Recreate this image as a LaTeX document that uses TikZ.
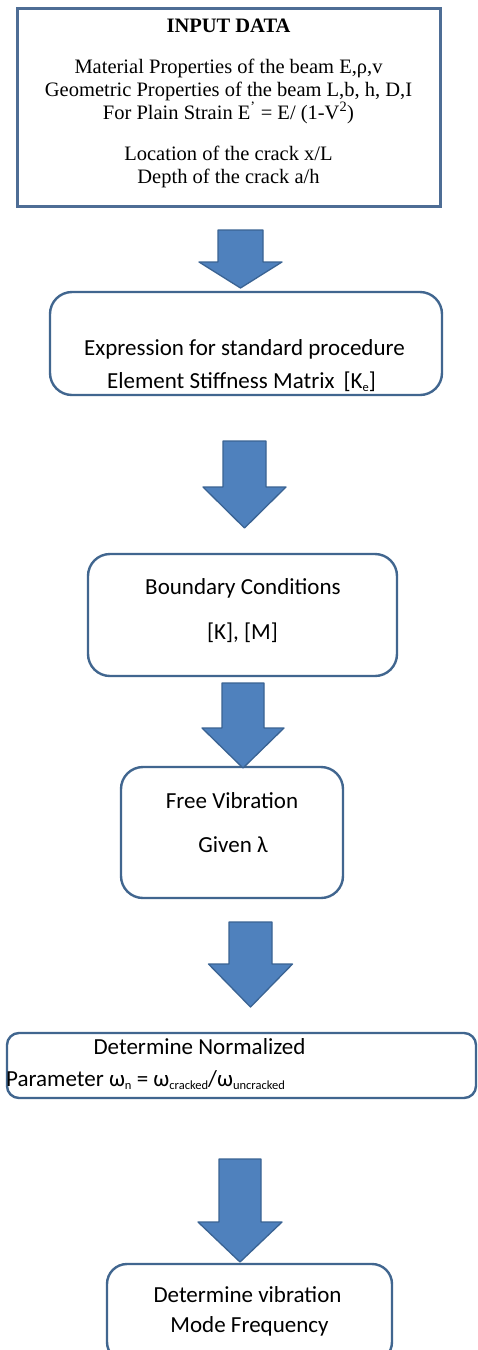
\documentclass[tikz,border=0pt]{standalone}
\usepackage{fontspec}
\setmainfont{Liberation Serif}
\newfontfamily\calib{Carlito}
\usetikzlibrary{calc}
\definecolor{arrfill}{HTML}{4F81BD}
\definecolor{arrline}{HTML}{3A6393}
\definecolor{boxline}{HTML}{41668F}
\definecolor{topline}{HTML}{4E6D95}
\newcommand\smallsub[1]{\raisebox{-0.35ex}{\fontsize{12.5}{14}\selectfont #1}}
\tikzset{
  rbox/.style={draw=boxline, line width=2.4pt, rounded corners=#1, fill=white},
  rbox/.default=20pt,
  tbox/.style={draw=topline, line width=3pt, fill=white},
  serif/.style={anchor=base, font=\fontsize{20.5}{23}\selectfont, inner sep=0pt},
  sans/.style={anchor=base, font=\calib\fontsize{23}{27}\selectfont, inner sep=0pt},
  blockarrow/.style={fill=arrfill, draw=arrline, line width=1.3pt, line join=round}
}
% name, cx, top, head, tip, shaft half, head half
\newcommand\blockarr[7]{%
  \coordinate (#1) at (#2,#3);
  \draw[blockarrow] ($(#1)+(-#6,0)$) -- ($(#1)+(#6,0)$) -- ($(#1)+(#6,#4-#3)$)
    -- ($(#1)+(#7,#4-#3)$) -- ($(#1)+(0,#5-#3)$) -- ($(#1)+(-#7,#4-#3)$)
    -- ($(#1)+(-#6,#4-#3)$) -- cycle;}
\begin{document}
\begin{tikzpicture}[x=1pt,y=-1pt]
\useasboundingbox[fill=white] (0,0) rectangle (477,1350);
% boxes
\draw[tbox] (17,8) rectangle (440,206);
\coordinate (B1) at (228.5,107);
\draw[rbox=22pt] (50,292) rectangle (442,395);
\coordinate (B2) at (246,343);
\draw[rbox=22pt] (88,554) rectangle (397,676);
\coordinate (B3) at (242.5,615);
\draw[rbox=22pt] (121,767) rectangle (343,898);
\coordinate (B4) at (232,832);
\draw[rbox=12pt] (7,1033) rectangle (476,1098);
\coordinate (B5) at (241.5,1065);
\draw[rbox=20pt] (107,1264) rectangle (392,1362);
\coordinate (B6) at (249.5,1310);
% box 1 text
\node[serif, font=\bfseries\fontsize{20.5}{23}\selectfont] (t1a) at (228.5,32) {INPUT DATA};
\node[serif] (t1b) at (228.5,73) {Material Properties of the beam E,ρ,v};
\node[serif] (t1c) at (228.5,96) {Geometric Properties of the beam L,b, h, D,I};
\node[serif] (t1d) at (228.5,119) {For Plain Strain E\textsuperscript{'} = E/ (1-V\textsuperscript{2})};
\node[serif] (t1e) at (228.5,160) {Location of the crack x/L};
\node[serif] (t1f) at (228.5,183) {Depth of the crack a/h};
% box 2 text
\node[sans] (t2a) at (244.5,355) {Expression for standard procedure};
\node[sans] (t2b) at (241.5,388) {Element Stiffness Matrix\, [K\smallsub{e}]};
% box 3 text
\node[sans] (t3a) at (243,594) {Boundary Conditions};
\node[sans] (t3b) at (242.5,639) {[K], [M]};
% box 4 text
\node[sans] (t4a) at (232,808) {Free Vibration};
\node[sans] (t4b) at (233,852) {Given λ};
% box 5 text
\node[sans] (t5a) at (199.5,1054) {Determine Normalized};
\node[sans, anchor=base west] (t5b) at (6,1086) {Parameter ω\smallsub{n} = ω\smallsub{cracked}/ω\smallsub{uncracked}};
% box 6 text
\node[sans] (t6a) at (247.5,1302) {Determine vibration};
\node[sans] (t6b) at (249.5,1332) {Mode Frequency};
% arrows
\blockarr{a1}{240.5}{230}{262}{288}{22.5}{41.5}
\blockarr{a2}{244.5}{441}{487}{528}{21.5}{41.5}
\blockarr{a3}{243}{683}{728}{768}{21}{41}
\blockarr{a4}{250.5}{922}{964}{1007}{21.5}{42}
\blockarr{a5}{240}{1159}{1222}{1262}{21}{42}
\end{tikzpicture}
\end{document}
